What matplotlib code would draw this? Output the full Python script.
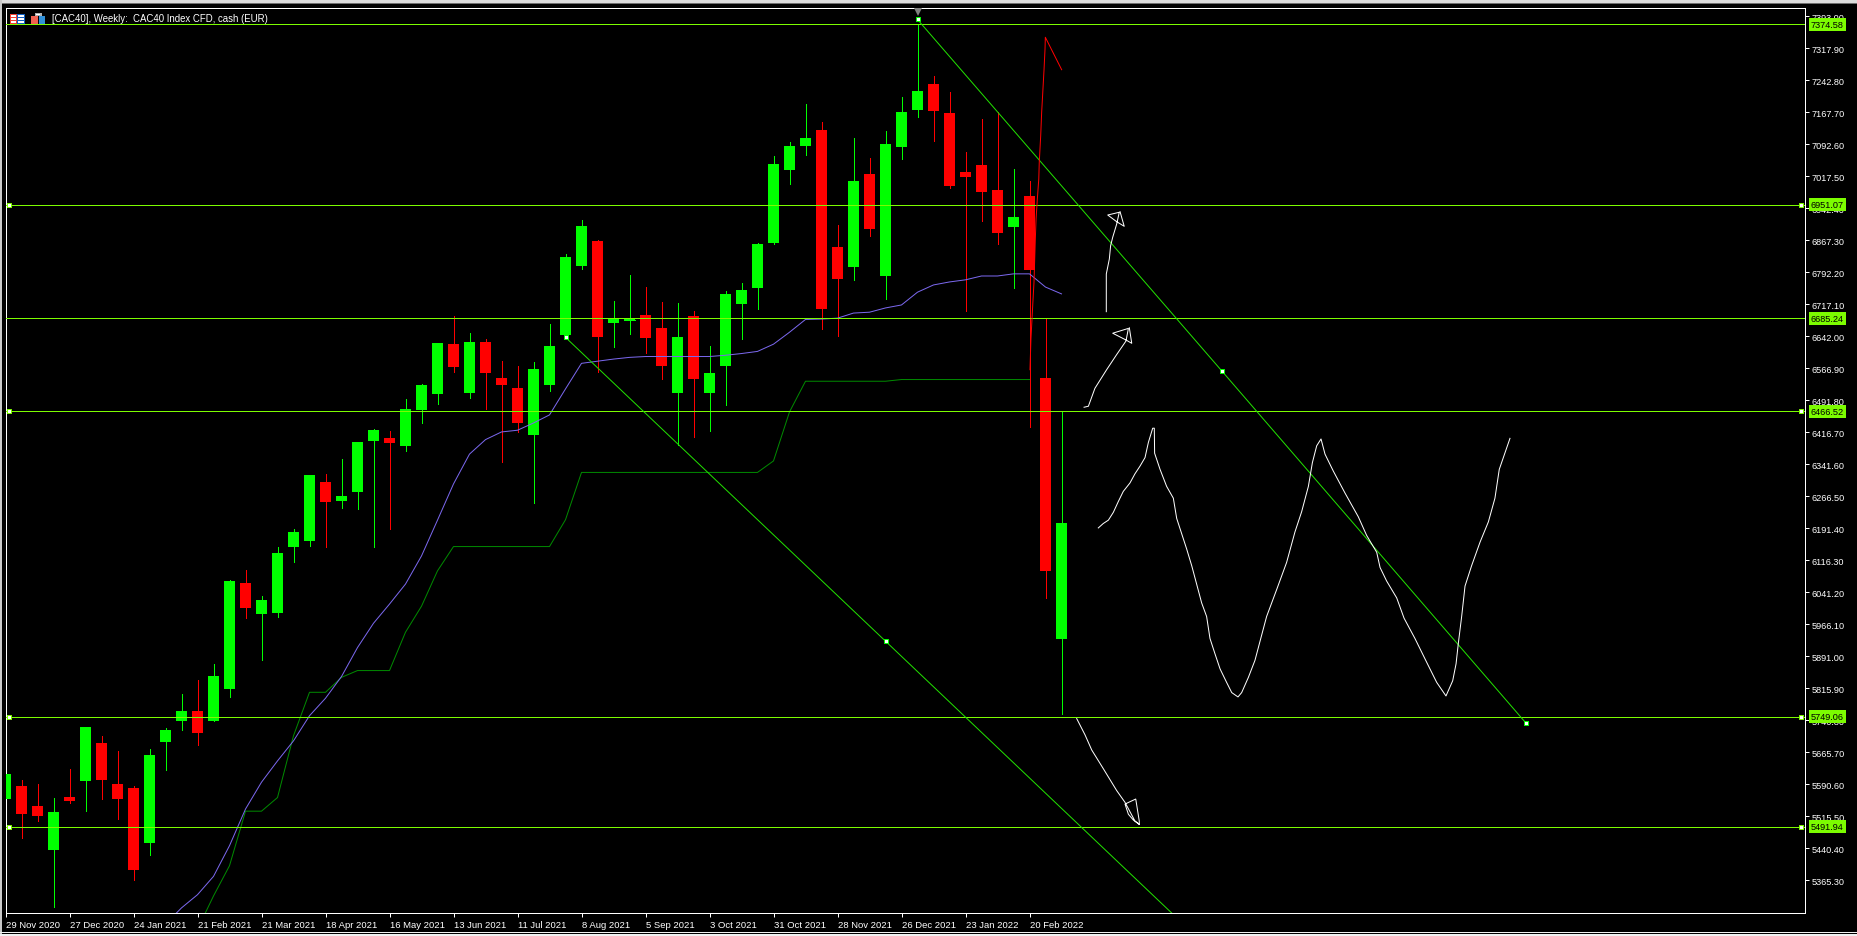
import matplotlib

matplotlib.use("Agg")

import matplotlib.pyplot as plt
import numpy as np
from matplotlib.patches import Rectangle

WIDTH, HEIGHT = 1857, 937
FONT = "Liberation Sans"

# weekly candles, one entry per bar
open_prices = [
    5556, 5587, 5540, 5437, 5561, 5599, 5688, 5592, 5582, 5453, 5690, 5739, 5763, 5739, 5815, 6063, 5991,
    5993, 6148, 6162, 6300, 6256, 6277, 6397, 6404, 6385, 6469, 6507, 6624, 6509, 6629, 6544, 6521, 6411,
    6528, 6645, 6807, 6866, 6674, 6681, 6692, 6662, 6509, 6690, 6509, 6573, 6718, 6756, 6861, 7033, 7089,
    7127, 6852, 6805, 7023, 6784, 7087, 7173, 7234, 7166, 7028, 7044, 6986, 6899, 6972, 6544, 5932,
]
high_prices = [
    5615, 5601, 5592, 5559, 5627, 5725, 5704, 5669, 5587, 5674, 5723, 5803, 5836, 5873, 6070, 6094, 6033,
    6148, 6190, 6317, 6319, 6354, 6394, 6425, 6420, 6495, 6530, 6627, 6690, 6650, 6636, 6584, 6573, 6582,
    6671, 6835, 6915, 6868, 6725, 6786, 6758, 6723, 6720, 6702, 6620, 6749, 6767, 6861, 7066, 7098, 7188,
    7145, 6904, 7108, 7061, 7124, 7204, 7375, 7253, 7216, 7075, 7152, 7169, 7035, 7007, 6685, 6466,
]
low_prices = [
    5556, 5465, 5505, 5303, 5547, 5528, 5556, 5509, 5366, 5425, 5624, 5718, 5683, 5739, 5796, 5981, 5883,
    5984, 6113, 6150, 6148, 6239, 6237, 6148, 6190, 6373, 6439, 6483, 6559, 6498, 6472, 6347, 6418, 6251,
    6514, 6641, 6800, 6559, 6617, 6648, 6603, 6542, 6387, 6406, 6420, 6481, 6636, 6706, 6859, 7000, 7068,
    6659, 6643, 6774, 6878, 6730, 7058, 7157, 7101, 6990, 6702, 6913, 6859, 6756, 6430, 6028, 5755,
]
close_prices = [
    5615, 5521, 5516, 5526, 5552, 5725, 5601, 5556, 5390, 5660, 5718, 5763, 5711, 5845, 6068, 6005, 6023,
    6134, 6183, 6317, 6253, 6267, 6394, 6422, 6392, 6472, 6528, 6627, 6570, 6629, 6556, 6528, 6439, 6566,
    6620, 6828, 6901, 6641, 6686, 6682, 6638, 6573, 6641, 6542, 6556, 6742, 6751, 6859, 7047, 7089, 7108,
    6706, 6777, 7007, 6894, 7094, 7169, 7218, 7171, 6995, 7016, 6981, 6885, 6922, 6798, 6092, 6204,
]

# moving averages, they start later than the candles
ma_fast_start = 10
ma_fast = [
    5263, 5301, 5332, 5375, 5447, 5533, 5596, 5646, 5693, 5752, 5793, 5844, 5912, 5969, 6014, 6061, 6127,
    6211, 6296, 6366, 6400, 6418, 6422, 6439, 6458, 6519, 6579, 6584, 6589, 6593, 6595, 6595, 6595, 6595,
    6595, 6598, 6602, 6607, 6624, 6652, 6682, 6683, 6685, 6697, 6699, 6709, 6716, 6746, 6763, 6770, 6775,
    6784, 6784, 6789, 6789, 6758, 6742,
]
ma_slow_start = 12
ma_slow = [
    5251, 5329, 5400, 5528, 5528, 5560, 5705, 5807, 5807, 5842, 5858, 5858, 5858, 5948, 6009, 6092, 6149,
    6149, 6149, 6149, 6149, 6149, 6149, 6212, 6323, 6323, 6323, 6323, 6323, 6323, 6323, 6323, 6323, 6323,
    6323, 6323, 6350, 6465, 6537, 6537, 6537, 6537, 6537, 6537, 6541, 6541, 6541, 6541, 6541, 6541, 6541,
    6541, 6541,
]

# horizontal levels
level_prices = [7374.58, 6951.07, 6685.24, 6466.52, 5749.06, 5491.94]
level_labels = ["7374.58", "6951.07", "6685.24", "6466.52", "5749.06", "5491.94"]
anchored_levels = [6951.07, 6466.52, 5749.06, 5491.94]

# the two channel lines and their handles
lower_line_bars = [35, 55, 73]
lower_line_prices = [6640, 5927, 5285]
upper_line_bars = [57, 76, 95]
upper_line_prices = [7386, 6562, 5736]

# hand drawn scribbles
w_bars = [
    68.30, 68.61, 68.93, 69.24, 69.55, 69.86, 70.28, 70.59, 70.91, 71.22, 71.43, 71.70, 71.80, 71.82, 72.16,
    72.57, 72.99, 73.20, 73.51, 73.82, 74.14, 74.45, 74.76, 75.07, 75.28, 75.59, 75.91, 76.32, 76.64, 77.03,
    77.26, 77.68, 78.09, 78.51, 78.82, 79.45, 80.07, 80.59, 81.01, 81.43, 81.68, 81.95, 82.22, 82.47, 82.99,
    83.72, 84.55, 85.07, 85.70, 85.91, 86.32, 86.95, 87.41, 88.09, 88.82, 89.45, 90.03, 90.45, 90.66, 90.80,
    91.01, 91.22, 91.63, 92.16, 92.68, 93.09, 93.36, 94.03,
]
w_prices = [
    6192.7, 6203.1, 6211.0, 6229.3, 6254.6, 6278.4, 6298.3, 6319.7, 6338.0, 6357.8, 6393.4, 6426.8, 6426.8,
    6368.1, 6330.1, 6290.3, 6262.5, 6215.0, 6179.3, 6143.6, 6103.9, 6060.3, 6016.7, 5984.9, 5933.3, 5897.6,
    5861.9, 5830.2, 5806.3, 5796.1, 5806.3, 5842.0, 5881.8, 5941.2, 5984.9, 6048.3, 6111.8, 6183.2, 6230.9,
    6290.3, 6345.9, 6385.5, 6401.5, 6365.8, 6326.0, 6274.5, 6218.9, 6175.3, 6135.6, 6099.9, 6068.2, 6028.5,
    5980.9, 5933.3, 5877.7, 5830.2, 5798.4, 5834.1, 5873.8, 5921.5, 5984.9, 6056.3, 6103.9, 6159.5, 6207.0,
    6262.5, 6330.1, 6403.0,
]
arrow_high_bars = [68.80, 68.80, 68.99, 69.07, 69.20, 69.45, 69.61, 68.89, 69.45, 69.92, 69.66]
arrow_high_prices = [6700.2, 6788.7, 6823.9, 6855.1, 6874.8, 6906.0, 6933.5, 6927.1, 6911.4, 6900.6, 6934.9]
arrow_mid_bars = [67.41, 67.68, 68.09, 68.82, 69.45, 70.03, 70.18, 69.20, 70.03, 70.39, 70.24]
arrow_mid_prices = [6476.0, 6478.3, 6520.5, 6564.0, 6599.7, 6631.4, 6661.0, 6649.7, 6633.8, 6626.0, 6662.4]
arrow_low_bars = [66.95, 67.47, 67.89, 68.61, 69.45, 69.97, 70.59, 70.86, 70.86, 70.64, 69.97, 70.18, 70.49, 70.86]
arrow_low_prices = [
    5745.3, 5707.1, 5671.5, 5627.9, 5576.3, 5548.6, 5504.9, 5497.0, 5504.9, 5556.5, 5544.7, 5520.8, 5507.3, 5497.0,
]
red_bars = [64.03, 64.09, 64.20, 64.28, 64.36, 64.41, 64.49, 64.58, 64.61, 64.70, 64.76, 64.83, 64.91, 64.97, 64.99, 66.01]
red_prices = [
    6564.0, 6636.1, 6714.3, 6769.2, 6866.8, 6917.8, 6964.7, 7011.6, 7050.8, 7113.3, 7168.2, 7215.1, 7269.8,
    7316.7, 7344.2, 7268.1,
]

# axis labels
date_bars = list(range(0, 65, 4))
date_labels = [
    "29 Nov 2020", "27 Dec 2020", "24 Jan 2021", "21 Feb 2021", "21 Mar 2021", "18 Apr 2021", "16 May 2021",
    "13 Jun 2021", "11 Jul 2021", "8 Aug 2021", "5 Sep 2021", "3 Oct 2021", "31 Oct 2021", "28 Nov 2021",
    "26 Dec 2021", "23 Jan 2022", "20 Feb 2022",
]
price_ticks = [
    7393.00, 7317.90, 7242.80, 7167.70, 7092.60, 7017.50, 6942.40, 6867.30, 6792.20, 6717.10, 6642.00, 6566.90,
    6491.80, 6416.70, 6341.60, 6266.50, 6191.40, 6116.30, 6041.20, 5966.10, 5891.00, 5815.90, 5740.80, 5665.70,
    5590.60, 5515.50, 5440.40, 5365.30,
]

BULL = "#00FF00"
BEAR = "#FF0000"
LEVEL = "#7CFC00"
TREND = "#22E000"
PX = 0.72  # one pixel, in points, at dpi 100


def add_frame_rect(fig, x, y, w, h, color):
    """Window chrome and icons, x and y in pixels from the top left corner."""
    fig.add_artist(
        Rectangle(
            (x / WIDTH, 1 - (y + h) / HEIGHT), w / WIDTH, h / HEIGHT,
            transform=fig.transFigure, facecolor=color, edgecolor="none", antialiased=False,
        )
    )


def draw_chrome(fig):
    add_frame_rect(fig, 0, 0, WIDTH, 4, "#DCDCDC")
    add_frame_rect(fig, 0, 4, WIDTH, 1, "#6E6E6E")
    add_frame_rect(fig, 0, 0, 2, HEIGHT, "#C8C8C8")
    add_frame_rect(fig, 0, 933, WIDTH, 1, "#F0F0F0")
    add_frame_rect(fig, 0, 935, WIDTH, 2, "#F0F0F0")

    # the two little toolbar icons in the corner
    add_frame_rect(fig, 10, 15, 7, 10, "#F04030")
    add_frame_rect(fig, 17, 15, 8, 10, "#1060C0")
    add_frame_rect(fig, 11, 16, 5, 8, "#FFFFFF")
    add_frame_rect(fig, 18, 16, 6, 8, "#FFFFFF")
    for row in (18, 21):
        add_frame_rect(fig, 11, row, 5, 1, "#F04030")
        add_frame_rect(fig, 18, row, 6, 1, "#1060C0")
    add_frame_rect(fig, 31, 17, 7, 8, "#F06050")
    add_frame_rect(fig, 39, 17, 6, 8, "#3090D8")
    add_frame_rect(fig, 35, 14, 7, 3, "#B0B0B0")
    add_frame_rect(fig, 36, 15, 4, 1, "#FFFFFF")


def draw_candles(ax):
    bars = np.arange(len(open_prices))
    opens = np.array(open_prices)
    closes = np.array(close_prices)
    colors = [BULL if c >= o else BEAR for o, c in zip(opens, closes)]

    ax.vlines(bars, low_prices, high_prices, colors=colors, linewidth=PX, antialiased=False, zorder=2)
    heights = np.abs(closes - opens)
    ax.bar(
        bars, heights, bottom=np.minimum(opens, closes), width=11 / 16, color=colors,
        linewidth=0, antialiased=False, zorder=3,
    )
    # the doji has no body to speak of, draw it as a flat tick
    doji = heights <= 2
    ax.hlines(opens[doji], bars[doji] - 0.34, bars[doji] + 0.34, colors=BULL, linewidth=PX, antialiased=False, zorder=3)


def draw_indicators(ax):
    ax.plot(np.arange(len(ma_slow)) + ma_slow_start, ma_slow, color="#008A00", linewidth=PX, zorder=4)
    ax.plot(np.arange(len(ma_fast)) + ma_fast_start, ma_fast, color="#7B68EE", linewidth=PX, zorder=4)


def draw_objects(ax):
    handle = dict(
        linestyle="none", marker="s", markersize=3.4, markerfacecolor="white", markeredgecolor=BULL,
        markeredgewidth=PX, zorder=7, clip_on=False,
    )
    for price in level_prices:
        ax.axhline(price, color=LEVEL, linewidth=PX, antialiased=False, zorder=5)
    for price in anchored_levels:
        ax.plot([0.2, 112.24], [price, price], **{**handle, "markeredgecolor": LEVEL})

    for bars, prices in ((lower_line_bars, lower_line_prices), (upper_line_bars, upper_line_prices)):
        ax.plot(bars, prices, color=TREND, linewidth=PX, zorder=5)
    ax.plot(lower_line_bars[:2], lower_line_prices[:2], **handle)
    ax.plot(upper_line_bars, upper_line_prices, **handle)

    # little grey marker above the highest bar
    ax.plot([57], [7407], marker="v", markersize=6.5, color="#808080", markeredgewidth=0, zorder=6)

    for bars, prices in (
        (w_bars, w_prices),
        (arrow_high_bars, arrow_high_prices),
        (arrow_mid_bars, arrow_mid_prices),
        (arrow_low_bars, arrow_low_prices),
    ):
        ax.plot(bars, prices, color="white", linewidth=PX, zorder=6)
    ax.plot(red_bars, red_prices, color=BEAR, linewidth=PX, zorder=6)


def draw_axes_text(ax):
    ax.set_xticks(date_bars)
    ax.set_xticklabels(date_labels, ha="left", fontsize=6.8, family=FONT, color="white")
    ax.set_yticks(price_ticks)
    ax.set_yticklabels([f"{p:.2f}" for p in price_ticks], fontsize=6.6, family=FONT, color="white")
    ax.yaxis.tick_right()
    ax.tick_params(axis="both", color="white", length=3, width=PX, pad=2)
    ax.tick_params(axis="x", pad=2.5)

    for price, label in zip(level_prices, level_labels):
        ax.annotate(
            label, xy=(1, price), xycoords=ax.get_yaxis_transform(), xytext=(4.5, 0), textcoords="offset points",
            ha="left", va="center", fontsize=6.6, family=FONT, color="black", zorder=10, annotation_clip=False,
            bbox=dict(boxstyle="square,pad=0.22", facecolor=LEVEL, edgecolor="none"),
        )


def main():
    fig = plt.figure(figsize=(WIDTH / 100, HEIGHT / 100), dpi=100, facecolor="black")
    ax = fig.add_axes([5.5 / WIDTH, (HEIGHT - 913.5) / HEIGHT, 1799 / WIDTH, 905 / HEIGHT], facecolor="black")
    ax.set_xlim(0, 1799 / 16)
    ax.set_ylim(5290.2, 7414.1)
    for spine in ax.spines.values():
        spine.set_color("white")
        spine.set_linewidth(PX)

    draw_candles(ax)
    draw_indicators(ax)
    draw_objects(ax)
    draw_axes_text(ax)
    draw_chrome(fig)

    fig.text(
        51.5 / WIDTH, 1 - 19.5 / HEIGHT, "[CAC40], Weekly:  CAC40 Index CFD, cash (EUR)",
        ha="left", va="center", fontsize=6.9, family=FONT, color="white", zorder=20,
    )

    fig.savefig("out.png", dpi=100, facecolor="black")
    plt.close(fig)


if __name__ == "__main__":
    main()
